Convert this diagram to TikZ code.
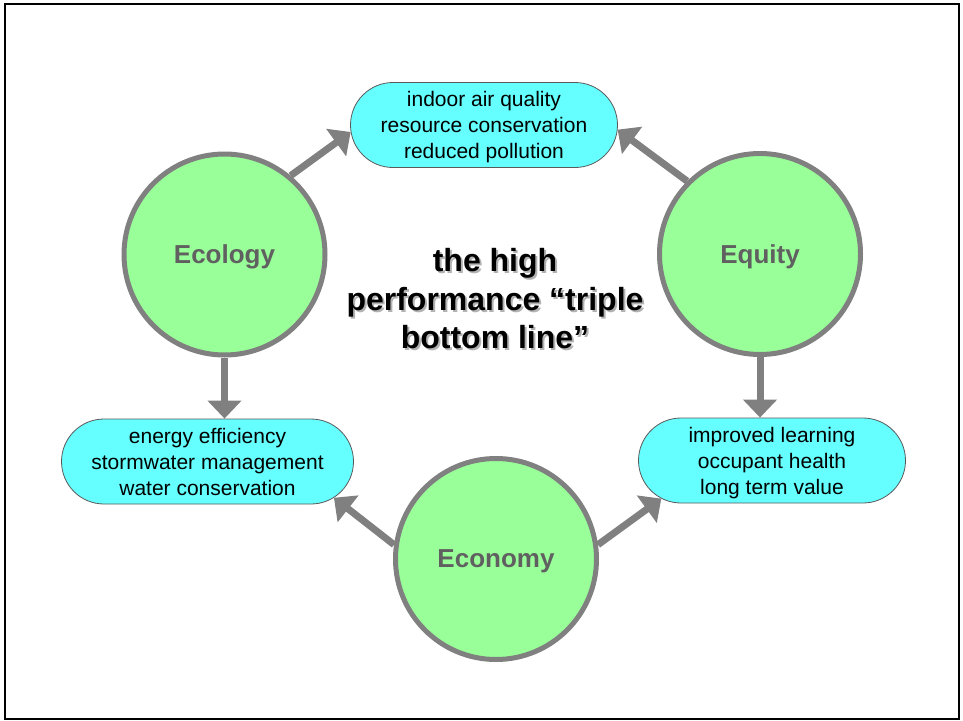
\documentclass[tikz,border=0pt]{standalone}
\usepackage{fontspec}
\setmainfont{Liberation Sans}
\usetikzlibrary{arrows.meta,shapes.misc,backgrounds}
\definecolor{pillargreen}{HTML}{99FF99}
\definecolor{goalcyan}{HTML}{66FFFF}
\definecolor{rimgray}{HTML}{808080}
\definecolor{labelgray}{HTML}{606060}
\begin{document}
\begin{tikzpicture}[x=1pt,y=-1pt,
  pillar/.style={circle, draw=rimgray, line width=5pt, fill=pillargreen, minimum size=201pt, inner sep=0pt, text depth=0pt, text=labelgray, font=\bfseries\fontsize{26}{30}\selectfont},
  goal/.style={rounded rectangle, draw=black!65, line width=0.8pt, fill=goalcyan, minimum height=85pt, inner sep=2pt, text depth=0pt, align=center, font=\fontsize{21}{26}\selectfont},
  link/.style={draw=rimgray, line width=7pt, -{Triangle[width=33pt,length=18pt]}},
  headline/.style={align=center, font=\bfseries\fontsize{32}{38.5}\selectfont}]
\useasboundingbox (0,0) rectangle (963,720);
\draw[line width=2pt] (5,4) rectangle (959,718.5);
\node[goal, minimum width=271pt] (air) at (484,125) {indoor air quality\\resource conservation\\reduced pollution};
\node[goal, minimum width=296pt] (energy) at (207.5,461.5) {energy efficiency\\stormwater management\\water conservation};
\node[goal, minimum width=271pt] (learning) at (772,460.5) {improved learning\\occupant health\\long term value};
\node[pillar] (ecology) at (224.5,254.5) {Ecology};
\node[pillar] (equity) at (760,254) {Equity};
\node[pillar] (economy) at (496,559) {Economy};
\node[headline, text=black!30] (shade) at (497,301) {the high\\performance “triple\\bottom line”};
\node[headline] (title) at (495,299) {the high\\performance “triple\\bottom line”};
\begin{scope}[on background layer]
\draw[link] (ecology.50) -- (air.183);
\draw[link] (equity.135) -- (air.-2);
\draw[link] (ecology.south) -- (ecology.south |- energy.north);
\draw[link] (equity.south) -- (equity.south |- learning.north);
\draw[link] (economy.172) -- (energy.-16);
\draw[link] (economy.8) -- (learning.199);
\end{scope}
\end{tikzpicture}
\end{document}
